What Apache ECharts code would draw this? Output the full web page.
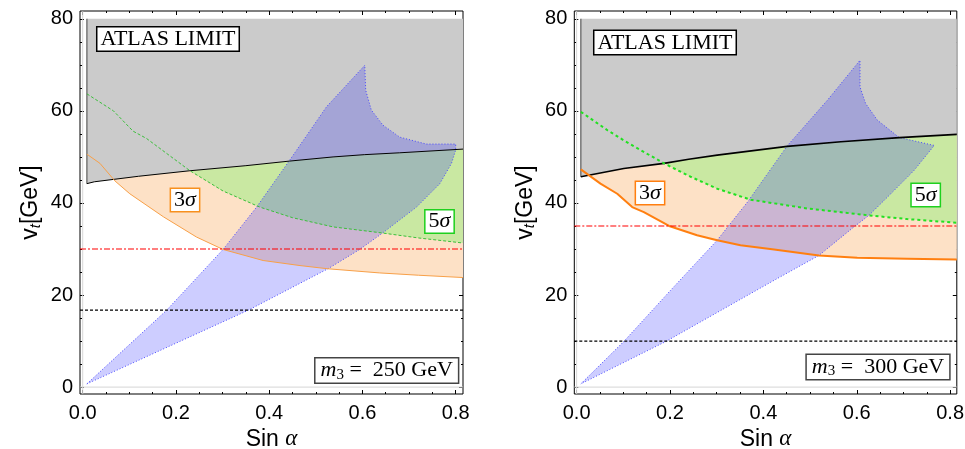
<!DOCTYPE html>
<html><head><meta charset="utf-8">
<script src="https://cdn.jsdelivr.net/npm/echarts@6/dist/echarts.min.js"></script>
<style>html,body{margin:0;padding:0;background:#fff}#c{width:965px;height:449px}</style>
</head><body><div id="c"></div>
<script>
// ---- tick labels ----
const xMajorTicks = [0, 0.2, 0.4, 0.6, 0.8];
const xMinorTicks = [0.05, 0.1, 0.15, 0.25, 0.3, 0.35, 0.45, 0.5, 0.55, 0.65, 0.7, 0.75];
const yMajorTicks = [0, 20, 40, 60, 80];
const yMinorTicks = [5, 10, 15, 25, 30, 35, 45, 50, 55, 65, 70, 75];
const grayTop = 80;

// ---- panel 1 : m3 = 250 GeV ----
const atlas250 = [[0.009,44.2],[0.025,44.6],[0.12,45.8],[0.23,47.0],[0.35,48.1],[0.444,49.1],[0.537,50.0],[0.605,50.5],[0.68,50.9],[0.8157,51.7]];
const green250 = [[0.009,63.7],[0.066,60.0],[0.108,55.6],[0.137,54.0],[0.23,47.0],[0.301,42.6],[0.38,39.1],[0.45,36.8],[0.537,34.8],[0.641,33.5],[0.72,32.4],[0.8157,31.3]];
const orange250 = [[0.009,50.6],[0.037,48.6],[0.069,44.8],[0.101,42.0],[0.173,37.0],[0.244,32.6],[0.301,29.9],[0.387,27.5],[0.466,26.4],[0.526,25.7],[0.637,24.8],[0.72,24.3],[0.8157,23.8]];
const blue250 = [[0.009,0.7],[0.18,16.7],[0.301,29.9],[0.373,39.1],[0.444,49.3],[0.523,60.9],[0.605,69.9],[0.607,64.5],[0.619,60.2],[0.644,56.9],[0.68,54.3],[0.737,52.8],[0.80,52.8],[0.80,51.5],[0.791,48.6],[0.766,44.2],[0.716,39.1],[0.641,33.3],[0.594,29.9],[0.526,25.7],[0.355,16.7],[0.009,0.7]];
const red250 = 30;
const black250 = 16.7;

// ---- panel 2 : m3 = 300 GeV ----
const atlas300 = [[0.009,45.7],[0.101,47.5],[0.187,48.6],[0.24,49.5],[0.301,50.4],[0.451,52.3],[0.566,53.3],[0.691,54.2],[0.8143,54.9]];
const green300 = [[0.009,59.8],[0.066,55.8],[0.101,53.6],[0.137,51.5],[0.187,48.6],[0.244,45.7],[0.301,43.1],[0.373,40.7],[0.494,38.8],[0.626,37.3],[0.708,36.5],[0.8143,35.7]];
const orange300 = [[0.009,47.3],[0.051,44.2],[0.087,42.0],[0.119,39.1],[0.144,38.0],[0.198,35.0],[0.258,33.0],[0.301,31.9],[0.351,30.8],[0.423,29.9],[0.519,28.6],[0.601,28.1],[0.708,27.9],[0.8143,27.7]];
const blue300 = [[0.009,0.7],[0.101,9.9],[0.201,21.0],[0.301,31.9],[0.366,40.2],[0.451,52.4],[0.537,62.3],[0.607,71.0],[0.607,65.2],[0.619,61.6],[0.644,58.0],[0.691,54.2],[0.766,52.5],[0.723,47.1],[0.673,42.0],[0.626,37.3],[0.594,34.8],[0.519,28.6],[0.423,23.2],[0.191,9.9],[0.009,0.7]];
const red300 = 35;
const black300 = 10;

// axis ranges
const xRange250 = [-0.0058, 0.8157];
const xRange300 = [-0.005, 0.8143];
const yRange = [-1.5, 81.7];

const SANS = 'Liberation Sans';
const SERIF = 'Liberation Serif';

function axisPair(kind, g, min, max, pos, major, minor, withLabels) {
  const base = {gridIndex: g, type: 'value', min: min, max: max, position: pos,
    axisLine: {show: false, onZero: false}, splitLine: {show: false}};
  const fmt = kind === 'x' ? (v => v.toFixed(1)) : (v => String(v));
  const a = Object.assign({}, base, {
    axisTick: {show: true, inside: true, length: 4, customValues: major, lineStyle: {color: '#000', width: 1}},
    axisLabel: withLabels ? {show: true, customValues: major, formatter: fmt, margin: kind === 'x' ? 9 : 7,
      color: '#000', fontSize: 20, fontFamily: SANS} : {show: false}
  });
  const b = Object.assign({}, base, {
    axisTick: {show: true, inside: true, length: 2, customValues: minor, lineStyle: {color: '#000', width: 1}},
    axisLabel: {show: false}
  });
  return [a, b];
}

function xAxesFor(g, r) {
  const ax = axisPair('x', g, r[0], r[1], 'bottom', xMajorTicks, xMinorTicks, true)
    .concat(axisPair('x', g, r[0], r[1], 'top', xMajorTicks, xMinorTicks, false));
  ax[0].name = '{n|Sin }{a|α}';
  ax[0].nameLocation = 'middle';
  ax[0].nameGap = 31;
  ax[0].nameTextStyle = {color: '#000', rich: {
    n: {fontSize: 23, fontFamily: SANS, color: '#000'},
    a: {fontSize: 23, fontFamily: SERIF, fontStyle: 'italic', color: '#000'}}};
  return ax;
}
function yAxesFor(g, r) {
  const ax = axisPair('y', g, r[0], r[1], 'left', yMajorTicks, yMinorTicks, true)
    .concat(axisPair('y', g, r[0], r[1], 'right', yMajorTicks, yMinorTicks, false));
  ax[0].name = '{n|v}{s|t}{n|[GeV]}';
  ax[0].nameLocation = 'middle';
  ax[0].nameRotate = 90;
  ax[0].nameGap = 37;
  ax[0].nameTextStyle = {color: '#000', rich: {
    n: {fontSize: 23, fontFamily: SANS, color: '#000'},
    s: {fontSize: 15, fontFamily: SANS, fontStyle: 'italic', color: '#000', padding: [9, 0, 0, 0]}}};
  return ax;
}

function poly(g, pts, style) {
  return {type: 'custom', xAxisIndex: 4 * g, yAxisIndex: 4 * g, silent: true, clip: true,
    data: pts, encode: {x: 0, y: 1},
    renderItem: function (params, api) {
      if (params.dataIndex !== 0) return null;
      const points = pts.map(p => api.coord(p));
      return {type: 'polygon', shape: {points: points}, style: style};
    }};
}
function line(g, pts, lineStyle, extra) {
  return Object.assign({type: 'line', xAxisIndex: 4 * g, yAxisIndex: 4 * g, data: pts, showSymbol: false,
    symbol: 'none', silent: true, lineStyle: lineStyle}, extra || {});
}

function panelSeries(g, xr, atlas, green, orange, blue, redY, blackY, thick) {
  const orangePoly = orange.concat(atlas.slice().reverse());
  const greenPoly = green.concat(atlas.slice().reverse());
  const first = atlas[0], last = atlas[atlas.length - 1];
  const grayPoly = atlas.concat([[last[0], grayTop], [first[0], grayTop]]);
  const grayEdge = [[first[0], first[1]], [first[0], grayTop]];
  const hline = (v) => [[xr[0], v], [xr[1], v]];
  const vline = (v) => [[v, yRange[0]], [v, yRange[1]]];
  return [
    line(g, hline(0), {color: '#d6d6d6', width: 1}),
    line(g, vline(0), {color: '#d6d6d6', width: 1}),
    poly(g, orangePoly, {fill: '#fde1c6', stroke: null}),
    poly(g, greenPoly, {fill: '#c9e8a2', stroke: null}),
    poly(g, grayPoly, {fill: '#cbcbcb', stroke: null}),
    line(g, grayEdge, {color: '#777', width: 1.5}),
    line(g, atlas, {color: '#000', width: thick ? 1.6 : 1}),
    line(g, green, thick ? {color: '#22e022', width: 2, type: [3, 3]} : {color: '#3bbf3b', width: 1, type: [3, 2]}),
    line(g, orange, {color: thick ? '#ff7f10' : '#f8a048', width: thick ? 2 : 1}),
    line(g, hline(redY), {color: '#ff0000', width: 1.2, type: [6, 2, 2, 2]}),
    line(g, hline(blackY), {color: '#000', width: 1.2, type: [3, 2]}),
    poly(g, blue, {fill: 'rgba(20,20,255,0.21)', stroke: '#4848ff', lineWidth: 1, lineDash: [1, 2]})
  ];
}

function boxText(x, y, rich, text, border, padding) {
  return {type: 'text', x: x, y: y, z: 100, silent: true,
    style: {text: text, align: 'center', verticalAlign: 'middle',
      backgroundColor: '#fff', borderColor: border, borderWidth: 1.5, padding: padding, rich: rich}};
}
const richSerif = (color) => ({
  n: {fontSize: 22, fontFamily: SERIF, color: color},
  i: {fontSize: 22, fontFamily: SERIF, fontStyle: 'italic', color: color},
  s: {fontSize: 15, fontFamily: SERIF, color: color, padding: [9, 0, 0, 0]}
});

const chart = echarts.init(document.getElementById('c'), null, {renderer: 'canvas'});
chart.setOption({
  animation: false,
  backgroundColor: '#fff',
  grid: [
    {left: 80, top: 11, width: 383, height: 383, show: true, borderColor: '#000', borderWidth: 1,
      backgroundColor: '#fff', containLabel: false, outerBoundsMode: 'none'},
    {left: 574.3, top: 11, width: 382.5, height: 383, show: true, borderColor: '#000', borderWidth: 1,
      backgroundColor: '#fff', containLabel: false, outerBoundsMode: 'none'}
  ],
  xAxis: xAxesFor(0, xRange250).concat(xAxesFor(1, xRange300)),
  yAxis: yAxesFor(0, yRange).concat(yAxesFor(1, yRange)),
  series: panelSeries(0, xRange250, atlas250, green250, orange250, blue250, red250, black250, false)
    .concat(panelSeries(1, xRange300, atlas300, green300, orange300, blue300, red300, black300, true)),
  graphic: [
    boxText(168, 39, richSerif('#000'), '{n|ATLAS LIMIT}', '#000', [1, 3, 0, 3]),
    boxText(665, 42.5, richSerif('#000'), '{n|ATLAS LIMIT}', '#000', [1, 3, 0, 3]),
    boxText(185, 200, richSerif('#f7901e'), '{n|3}{i|σ}', '#f7901e', [0, 3, 0, 3]),
    boxText(650, 193, richSerif('#ff7f10'), '{n|3}{i|σ}', '#ff7f10', [0, 3, 0, 3]),
    boxText(439.5, 221.5, richSerif('#1ed01e'), '{n|5}{i|σ}', '#1ed01e', [0, 3, 0, 3]),
    boxText(925.7, 195, richSerif('#1ed01e'), '{n|5}{i|σ}', '#1ed01e', [0, 3, 0, 3]),
    boxText(386.7, 370.5, richSerif('#000'), '{i|m}{s|3}{n| =  250 GeV}', '#444', [0, 5, 0, 5]),
    boxText(878, 367, richSerif('#000'), '{i|m}{s|3}{n| =  300 GeV}', '#444', [0, 5, 0, 5])
  ]
});
</script>
</body></html>
